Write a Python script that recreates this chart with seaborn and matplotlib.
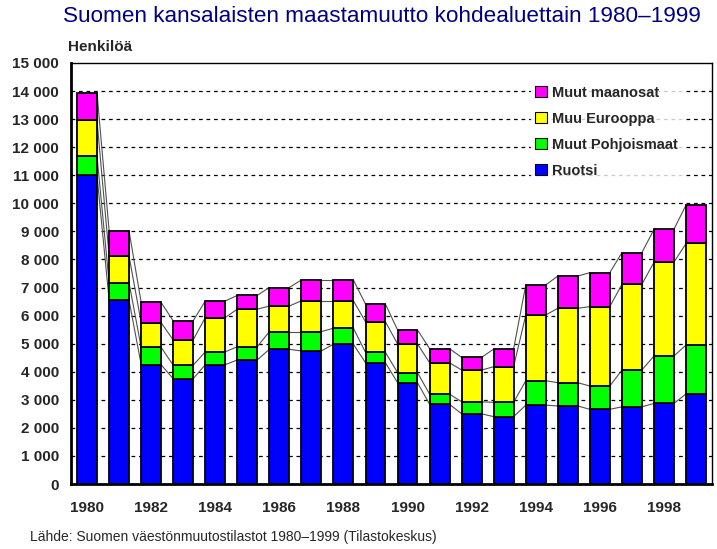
import numpy as np
import pandas as pd
import matplotlib
matplotlib.use("Agg")
import matplotlib.pyplot as plt
import seaborn as sns
from matplotlib.patches import Patch

years = list(range(1980, 2000))
ruotsi = [11000, 6550, 4250, 3750, 4250, 4420, 4800, 4740, 4980, 4320,
          3610, 2840, 2500, 2400, 2810, 2780, 2660, 2750, 2870, 3210]
pohjoismaat = [700, 620, 620, 480, 460, 470, 630, 690, 570, 370,
               360, 360, 430, 510, 870, 830, 830, 1310, 1690, 1740]
eurooppa = [1260, 950, 880, 900, 1220, 1340, 910, 1100, 980, 1090,
            1020, 1120, 1130, 1270, 2340, 2650, 2830, 3050, 3340, 3620]
maanosat = [980, 900, 720, 680, 590, 490, 660, 740, 740, 630,
            500, 500, 450, 630, 1070, 1150, 1210, 1130, 1170, 1370]
series_names = ["Ruotsi", "Muut Pohjoismaat", "Muu Eurooppa", "Muut maanosat"]
colors = ["#0000FF", "#00FF00", "#FFFF00", "#FF00FF"]
ytick_vals = list(range(0, 15001, 1000))
ytick_labels = ["0" if v == 0 else f"{v // 1000} 000" for v in ytick_vals]
title = "Suomen kansalaisten maastamuutto kohdealuettain 1980–1999"
ylabel = "Henkilöä"
source = "Lähde: Suomen väestönmuutostilastot 1980–1999 (Tilastokeskus)"

sns.set_style("white")
narrow = ["Liberation Sans Narrow", "Liberation Sans", "DejaVu Sans"]
plt.rcParams["font.family"] = ["Liberation Sans", "DejaVu Sans"]

fig = plt.figure(figsize=(7.17, 5.49), dpi=100)
ax = fig.add_axes([71 / 717, 65 / 549, (712 - 71) / 717, (484 - 63) / 549])

df = pd.DataFrame({"year": [str(y) for y in years]})
stack = [ruotsi, pohjoismaat, eurooppa, maanosat]
bottom = np.zeros(len(years))
width = 0.62
tops = []
for name, vals, col in zip(series_names, stack, colors):
    vals = np.array(vals, dtype=float)
    sub = df.copy()
    sub["val"] = vals
    sns.barplot(data=sub, x="year", y="val", color=col, bottom=bottom,
                width=width, edgecolor="black", linewidth=1.3, saturation=1,
                ax=ax, zorder=3, errorbar=None)
    bottom = bottom + vals
    tops.append(bottom.copy())

# series lines
for lvl in tops:
    for i in range(len(years) - 1):
        ax.plot([i + width / 2, i + 1 - width / 2], [lvl[i], lvl[i + 1]],
                color="#505050", lw=0.8, zorder=2.5)

ax.set_xlim(-0.5, len(years) - 0.5)
ax.set_ylim(0, 15000)
ax.set_xlabel("")
ax.set_ylabel("")

# grid
for v in ytick_vals[1:-1]:
    ax.axhline(v, color="black", lw=0.9, ls=(0, (3, 3)), zorder=1)

ax.set_yticks(ytick_vals)
ax.set_yticklabels(ytick_labels, fontsize=11, fontweight="bold", family=narrow)
ax.tick_params(axis="y", direction="inout", length=7, width=1.2, pad=5)

ax.set_xticks(range(0, len(years), 2))
ax.set_xticklabels([str(y) for y in years[::2]], fontsize=11,
                   fontweight="bold", family=narrow)
ax.set_xticks(np.arange(0.5, len(years) - 0.5, 1), minor=True)
ax.tick_params(axis="x", which="major", length=0, pad=12)
ax.tick_params(axis="x", which="minor", direction="out", length=5, width=1.5)

for side in ["top", "right"]:
    ax.spines[side].set_visible(True)
    ax.spines[side].set_linewidth(1.0)
    ax.spines[side].set_color("black")
for side in ["left", "bottom"]:
    ax.spines[side].set_linewidth(2.0)
    ax.spines[side].set_color("black")

handles = [Patch(facecolor=c, edgecolor="black", lw=0.8) for c in colors][::-1]
labels = series_names[::-1]
leg = ax.legend(handles, labels, loc="upper left",
                bbox_to_anchor=(524 / 717, 1 - 75 / 549),
                bbox_transform=fig.transFigure, frameon=True,
                prop={"weight": "bold", "size": 10.5},
                handlelength=0.8, handleheight=0.8, handletextpad=0.4,
                labelspacing=0.82, borderpad=0.25, fancybox=False)
leg.get_frame().set_edgecolor("white")
leg.get_frame().set_facecolor("white")
leg.set_zorder(5)

fig.text(0.533, 1 - 17 / 549, title, ha="center", va="center",
         fontsize=16.2, color="#000080")
fig.text(68 / 717, 1 - 47 / 549, ylabel, ha="left", va="center",
         fontsize=11, fontweight="bold", family=narrow)
fig.text(30 / 717, 1 - 537 / 549, source, ha="left", va="center",
         fontsize=10, family=narrow)

fig.savefig("out.png", dpi=100)
